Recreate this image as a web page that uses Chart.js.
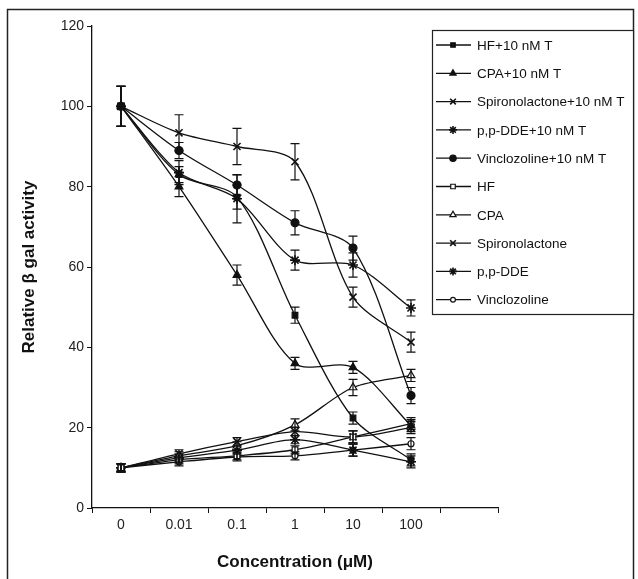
<!DOCTYPE html>
<html>
<head>
<meta charset="utf-8">
<script src="https://cdn.jsdelivr.net/npm/chart.js@4/dist/chart.umd.min.js"></script>
<style>
  html, body { margin: 0; padding: 0; background: #fff; }
  #wrap { width: 638px; height: 579px; position: relative; }
</style>
</head>
<body>
<div id="wrap"><canvas id="chart" width="638" height="579"></canvas></div>
<script>
// concentration steps (uM); the last slot is empty on the original axis
const concentrations = ['0', '0.01', '0.1', '1', '10', '100', ''];

// relative beta-gal activity, with 10 nM T
const hfT     = [100, 83, 77.4, 48, 22.4, 12];
const cpaT    = [100, 80, 58, 36, 35, 20.5];
const spiroT  = [100, 93.4, 90, 86.2, 52.5, 41.3];
const ddeT    = [100, 83.5, 77, 61.7, 60.5, 49.8];
const vincT   = [100, 89, 80.4, 71, 64.7, 28];
// compounds alone
const hf      = [10, 12, 13, 14.5, 17.7, 21];
const cpa     = [10, 13, 15.5, 20.7, 30, 33];
const spiro   = [10, 13.5, 16.5, 19, 17.7, 20];
const dde     = [10, 12.5, 14.4, 17, 14.4, 11.5];
const vinc    = [10, 11.5, 12.7, 13, 14.4, 16];

// error bars (+/-)
const hfTErr    = [5, 2, 3, 2, 1.5, 1.5];
const cpaTErr   = [5, 2.5, 2.5, 1.5, 1.5, 1.5];
const spiroTErr = [5, 4.5, 4.5, 4.5, 2.5, 2.5];
const ddeTErr   = [5, 3, 6, 2.5, 3, 2];
const vincTErr  = [5, 2, 2.5, 3, 3, 2];
const hfErr     = [1, 1, 1, 1, 1.5, 1.5];
const cpaErr    = [1, 1, 1, 1.5, 2, 1.5];
const spiroErr  = [1, 1, 1, 1, 1.5, 1.5];
const ddeErr    = [1, 1, 1, 1, 1.5, 1.5];
const vincErr   = [1, 1, 1, 1, 1.5, 1.5];

const yTicks = [0, 20, 40, 60, 80, 100, 120];

function series(label, data, err, style, radius, filled) {
  return {
    label: label,
    data: data,
    err: err,
    borderColor: '#111',
    borderWidth: 1.3,
    pointStyle: style,
    pointRadius: radius,
    pointBorderWidth: style === 'crossRot' || style === 'star' ? 1.6 : 1.2,
    pointBorderColor: '#111',
    pointBackgroundColor: filled ? '#111' : '#fff',
    tension: 0.3,
    fill: false
  };
}

const datasets = [
  series('HF+10 nM T', hfT, hfTErr, 'rect', 4, true),
  series('CPA+10 nM T', cpaT, cpaTErr, 'triangle', 4.5, true),
  series('Spironolactone+10 nM T', spiroT, spiroTErr, 'crossRot', 5, true),
  series('p,p-DDE+10 nM T', ddeT, ddeTErr, 'star', 5, true),
  series('Vinclozoline+10 nM T', vincT, vincTErr, 'circle', 4, true),
  series('HF', hf, hfErr, 'rect', 4, false),
  series('CPA', cpa, cpaErr, 'triangle', 4.5, false),
  series('Spironolactone', spiro, spiroErr, 'crossRot', 5, true),
  series('p,p-DDE', dde, ddeErr, 'star', 5, true),
  series('Vinclozoline', vinc, vincErr, 'circle', 3, false)
];

// outer frame of the figure
const framePlugin = {
  id: 'frame',
  beforeDraw(chart) {
    const ctx = chart.ctx;
    ctx.save();
    ctx.strokeStyle = '#222';
    ctx.lineWidth = 1.5;
    ctx.strokeRect(7.5, 9.5, 626, 620);
    ctx.restore();
  }
};

// vertical error bars with caps
const errorBarPlugin = {
  id: 'errorBars',
  afterDatasetsDraw(chart) {
    const ctx = chart.ctx;
    const xs = chart.scales.x, ys = chart.scales.y;
    ctx.save();
    ctx.strokeStyle = '#111';
    ctx.lineWidth = 1.2;
    chart.data.datasets.forEach(ds => {
      ds.data.forEach((v, i) => {
        const e = ds.err[i];
        const x = xs.getPixelForValue(i);
        const y1 = ys.getPixelForValue(v + e);
        const y2 = ys.getPixelForValue(v - e);
        ctx.beginPath();
        ctx.moveTo(x, y1); ctx.lineTo(x, y2);
        ctx.moveTo(x - 4.5, y1); ctx.lineTo(x + 4.5, y1);
        ctx.moveTo(x - 4.5, y2); ctx.lineTo(x + 4.5, y2);
        ctx.stroke();
      });
    });
    ctx.restore();
  }
};

// boxed legend drawn at the top right, line + marker + text
const boxLegendPlugin = {
  id: 'boxLegend',
  afterDraw(chart) {
    const ctx = chart.ctx;
    const left = 432, top = 30, width = 201, height = 284;
    ctx.save();
    ctx.fillStyle = '#fff';
    ctx.fillRect(left, top, width, height);
    ctx.strokeStyle = '#222';
    ctx.lineWidth = 1.2;
    ctx.strokeRect(left + 0.5, top + 0.5, width, height);
    ctx.font = '13.5px "Liberation Sans", Arial, sans-serif';
    ctx.textBaseline = 'middle';
    chart.data.datasets.forEach((ds, i) => {
      const y = 45 + i * 28.3;
      ctx.strokeStyle = '#111';
      ctx.lineWidth = 1.3;
      ctx.beginPath();
      ctx.moveTo(436, y); ctx.lineTo(471, y);
      ctx.stroke();
      ctx.fillStyle = ds.pointBackgroundColor;
      ctx.strokeStyle = '#111';
      ctx.lineWidth = ds.pointBorderWidth;
      Chart.helpers.drawPoint(ctx, {
        pointStyle: ds.pointStyle, radius: ds.pointRadius * 0.8,
        rotation: 0, borderWidth: ds.pointBorderWidth
      }, 453, y);
      ctx.fillStyle = '#111';
      ctx.fillText(ds.label, 477, y + 1);
    });
    ctx.restore();
  }
};

new Chart(document.getElementById('chart'), {
  type: 'line',
  data: { labels: concentrations, datasets: datasets },
  options: {
    responsive: false,
    animation: false,
    layout: { padding: { left: 7, right: 140, top: 26, bottom: 4 } },
    plugins: { legend: { display: false }, tooltip: { enabled: false } },
    scales: {
      x: {
        type: 'category',
        offset: true,
        afterFit(s) { s.height = 67; },
        grid: { display: true, offset: true, drawOnChartArea: false, drawTicks: true, tickLength: 5, color: '#111' },
        border: { display: true, color: '#111', width: 1.3 },
        ticks: { color: '#222', font: { family: '"Liberation Sans", Arial, sans-serif', size: 14 }, padding: 4, maxRotation: 0, autoSkip: false },
        title: { display: true, text: 'Concentration (\u03bcM)', color: '#111', font: { family: '"Liberation Sans", Arial, sans-serif', size: 17, weight: 'bold' }, padding: { top: 4, bottom: 2 } }
      },
      y: {
        min: 0, max: 120,
        afterFit(s) { s.width = 85; },
        afterBuildTicks(s) { s.ticks = yTicks.map(v => ({ value: v })); },
        grid: { display: true, drawOnChartArea: false, drawTicks: true, tickLength: 5, color: '#111' },
        border: { display: true, color: '#111', width: 1.3 },
        ticks: { color: '#222', font: { family: '"Liberation Sans", Arial, sans-serif', size: 14 }, padding: 3 },
        title: { display: true, text: 'Relative \u03b2 gal activity', color: '#111', font: { family: '"Liberation Sans", Arial, sans-serif', size: 17, weight: 'bold' }, padding: { top: 12, bottom: 4 } }
      }
    }
  },
  plugins: [framePlugin, errorBarPlugin, boxLegendPlugin]
});
</script>
</body>
</html>
